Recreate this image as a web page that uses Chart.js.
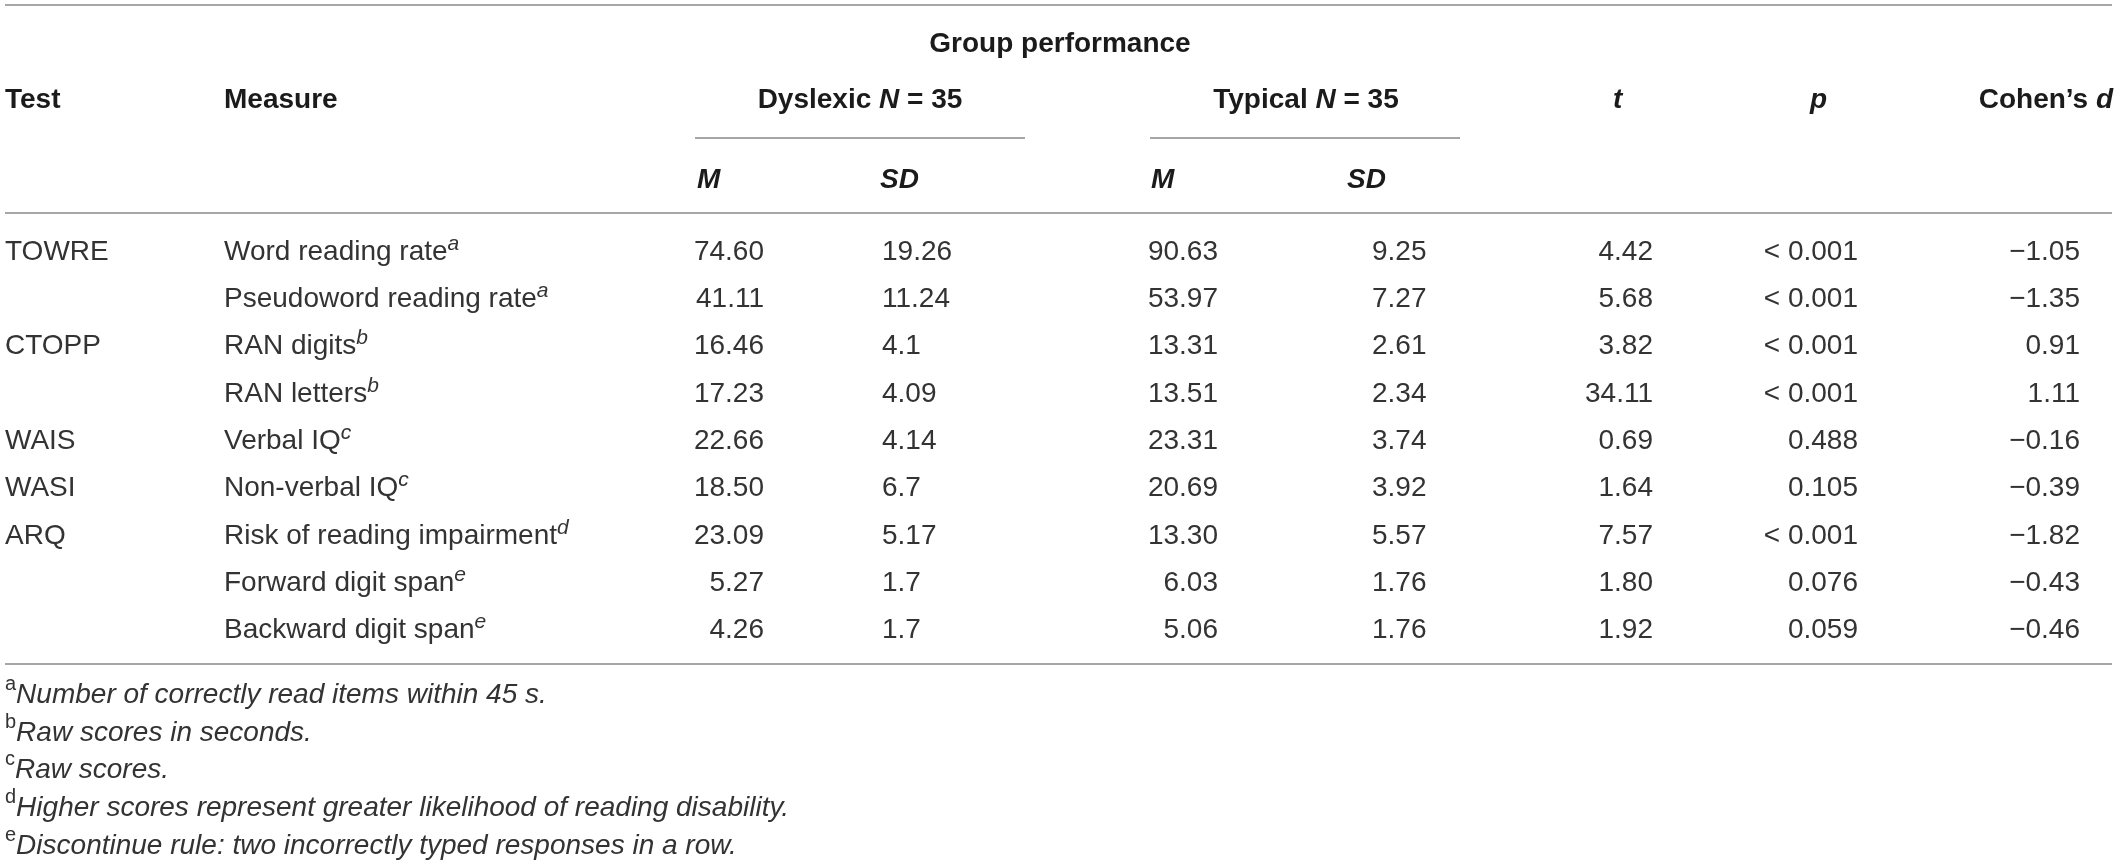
<!DOCTYPE html>
<html>
<head>
<meta charset="utf-8">
<title>Group performance</title>
<script src="https://cdn.jsdelivr.net/npm/chart.js@4.4.1/dist/chart.umd.min.js"></script>
<style>
    html, body { margin: 0; padding: 0; background: #fff; }
    #wrap { width: 2122px; height: 863px; }
</style>
</head>
<body>
<div id="wrap"><canvas id="groupTable"></canvas></div>
<script>
// table contents
const tests = ['TOWRE', '', 'CTOPP', '', 'WAIS', 'WASI', 'ARQ', '', ''];
const measures = [
    'Word reading rate', 'Pseudoword reading rate', 'RAN digits', 'RAN letters',
    'Verbal IQ', 'Non-verbal IQ', 'Risk of reading impairment',
    'Forward digit span', 'Backward digit span'
];
const measureNotes = ['a', 'a', 'b', 'b', 'c', 'c', 'd', 'e', 'e'];
const dyslexicMean = ['74.60', '41.11', '16.46', '17.23', '22.66', '18.50', '23.09', '5.27', '4.26'];
const dyslexicSD = ['19.26', '11.24', '4.1', '4.09', '4.14', '6.7', '5.17', '1.7', '1.7'];
const typicalMean = ['90.63', '53.97', '13.31', '13.51', '23.31', '20.69', '13.30', '6.03', '5.06'];
const typicalSD = ['9.25', '7.27', '2.61', '2.34', '3.74', '3.92', '5.57', '1.76', '1.76'];
const tValues = ['4.42', '5.68', '3.82', '34.11', '0.69', '1.64', '7.57', '1.80', '1.92'];
const pValues = ['< 0.001', '< 0.001', '< 0.001', '< 0.001', '0.488', '0.105', '< 0.001', '0.076', '0.059'];
const cohensD = ['\u22121.05', '\u22121.35', '0.91', '1.11', '\u22120.16', '\u22120.39', '\u22121.82', '\u22120.43', '\u22120.46'];
const footnoteKeys = ['a', 'b', 'c', 'd', 'e'];
const footnotes = [
    'Number of correctly read items within 45 s.',
    'Raw scores in seconds.',
    'Raw scores.',
    'Higher scores represent greater likelihood of reading disability.',
    'Discontinue rule: two incorrectly typed responses in a row.'
];

const FAMILY = '"Liberation Sans", Arial, Helvetica, sans-serif';
const FONT = {
    reg: `28px ${FAMILY}`,
    it: `italic 28px ${FAMILY}`,
    bold: `bold 28px ${FAMILY}`,
    boldIt: `italic bold 28px ${FAMILY}`,
    sup: `20px ${FAMILY}`,
    supIt: `italic 21px ${FAMILY}`
};
const COLOR = { body: '#333333', head: '#1b1b1b', rule: '#a6a6a6' };

// column anchors on the x scale (0..2122 table units)
const columns = [
    { values: tests, x: 5, align: 'left' },
    { values: measures, notes: measureNotes, x: 224, align: 'left' },
    { values: dyslexicMean, x: 764, align: 'right' },
    { values: dyslexicSD, x: 882, align: 'left' },
    { values: typicalMean, x: 1218, align: 'right' },
    { values: typicalSD, x: 1372, align: 'left' },
    { values: tValues, x: 1653, align: 'right' },
    { values: pValues, x: 1858, align: 'right' },
    { values: cohensD, x: 2080, align: 'right' }
];

const headerCells = [
    { row: 0, x: 1060, align: 'center', parts: [['Group performance', FONT.bold]] },
    { row: 1, x: 5, align: 'left', parts: [['Test', FONT.bold]] },
    { row: 1, x: 224, align: 'left', parts: [['Measure', FONT.bold]] },
    { row: 1, x: 860, align: 'center', parts: [['Dyslexic ', FONT.bold], ['N', FONT.boldIt], [' = 35', FONT.bold]] },
    { row: 1, x: 1306, align: 'center', parts: [['Typical ', FONT.bold], ['N', FONT.boldIt], [' = 35', FONT.bold]] },
    { row: 1, x: 1613, align: 'left', parts: [['t', FONT.boldIt]] },
    { row: 1, x: 1810, align: 'left', parts: [['p', FONT.boldIt]] },
    { row: 1, x: 2113, align: 'right', parts: [['Cohen\u2019s ', FONT.bold], ['d', FONT.boldIt]] },
    { row: 2, x: 697, align: 'left', parts: [['M', FONT.boldIt]] },
    { row: 2, x: 880, align: 'left', parts: [['SD', FONT.boldIt]] },
    { row: 2, x: 1151, align: 'left', parts: [['M', FONT.boldIt]] },
    { row: 2, x: 1347, align: 'left', parts: [['SD', FONT.boldIt]] }
];
// header row centres, measured up from the top of the body rows
const headerOffsets = [-184, -128, -48];
const groupRules = [[695, 1025], [1150, 1460]];

function drawRich(ctx, parts, x, y, align, color) {
    let width = 0;
    parts.forEach(([text, font]) => {
        ctx.font = font;
        width += ctx.measureText(text).width;
    });
    let cx = align === 'right' ? x - width : align === 'center' ? x - width / 2 : x;
    ctx.fillStyle = color;
    ctx.textBaseline = 'alphabetic';
    ctx.textAlign = 'left';
    parts.forEach(([text, font, rise]) => {
        ctx.font = font;
        ctx.fillText(text, cx, y - (rise || 0));
        cx += ctx.measureText(text).width;
    });
}

function hRule(ctx, x0, x1, y) {
    ctx.beginPath();
    ctx.moveTo(x0, y);
    ctx.lineTo(x1, y);
    ctx.stroke();
}

const tablePlugin = {
    id: 'tableText',
    afterDatasetsDraw(chart) {
        const { ctx, chartArea } = chart;
        const xs = chart.scales.x;
        const px = v => xs.getPixelForValue(v);
        const top = chartArea.top;
        const bottom = chartArea.bottom;

        ctx.save();
        ctx.strokeStyle = COLOR.rule;
        ctx.lineWidth = 2;
        hRule(ctx, px(5), px(2112), top - 221);
        hRule(ctx, px(5), px(2112), top - 13);
        hRule(ctx, px(5), px(2112), bottom + 12);
        groupRules.forEach(([a, b]) => hRule(ctx, px(a), px(b), top - 88));

        headerCells.forEach(cell => {
            drawRich(ctx, cell.parts, px(cell.x), top + headerOffsets[cell.row] + 10, cell.align, COLOR.head);
        });

        chart.data.datasets.forEach((ds, di) => {
            const col = columns[di];
            chart.getDatasetMeta(di).data.forEach((pt, i) => {
                const parts = [[col.values[i], FONT.reg]];
                if (col.notes) parts.push([col.notes[i], FONT.supIt, 10]);
                drawRich(ctx, parts, pt.x, pt.y + 10, col.align, COLOR.body);
            });
        });

        footnotes.forEach((note, i) => {
            const y = bottom + 51 + i * 37.7;
            drawRich(ctx, [[footnoteKeys[i], FONT.sup, 13], [note, FONT.it]], px(5), y, 'left', COLOR.body);
        });
        ctx.restore();
    }
};

new Chart(document.getElementById('groupTable'), {
    type: 'scatter',
    data: {
        datasets: columns.map(col => ({
            data: col.values.map((v, i) => ({ x: col.x, y: measures[i] })),
            pointRadius: 0,
            pointHoverRadius: 0
        }))
    },
    options: {
        responsive: true,
        maintainAspectRatio: false,
        animation: false,
        events: [],
        layout: { padding: { top: 226, bottom: 211, left: 0, right: 0 } },
        plugins: {
            legend: { display: false },
            tooltip: { enabled: false }
        },
        scales: {
            x: { type: 'linear', min: 0, max: 2122, display: false },
            y: { type: 'category', labels: measures, offset: true, display: false }
        }
    },
    plugins: [tablePlugin]
});
</script>
</body>
</html>
